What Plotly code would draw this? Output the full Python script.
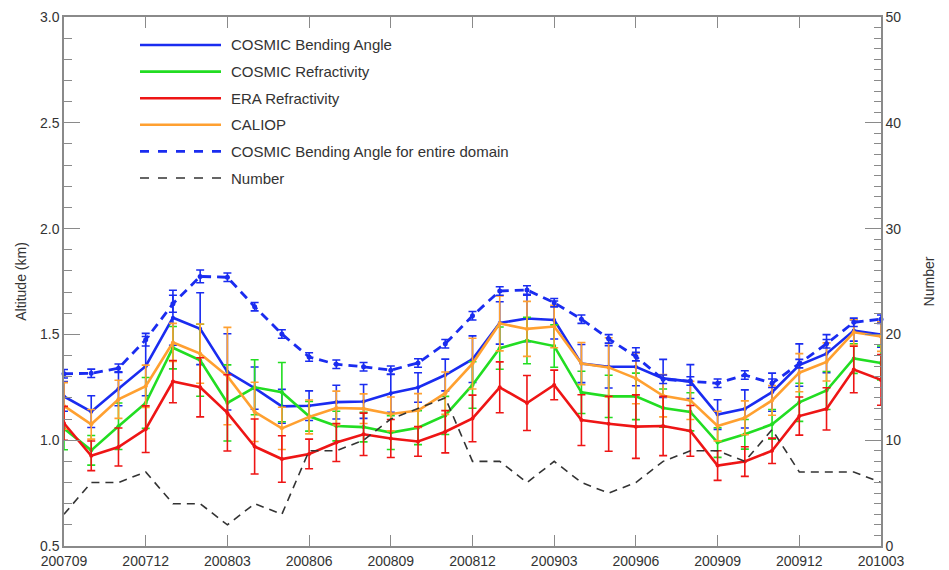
import plotly.graph_objects as go

# Monthly series, 2007-09 .. 2010-03
months = ["200709", "200710", "200711", "200712", "200801", "200802", "200803", "200804",
          "200805", "200806", "200807", "200808", "200809", "200810", "200811", "200812",
          "200901", "200902", "200903", "200904", "200905", "200906", "200907", "200908",
          "200909", "200910", "200911", "200912", "201001", "201002", "201003"]

cosmic_ba = [1.207, 1.135, 1.243, 1.350, 1.579, 1.527, 1.323, 1.246, 1.160, 1.163, 1.180,
             1.183, 1.222, 1.249, 1.308, 1.383, 1.554, 1.575, 1.568, 1.362, 1.347, 1.347,
             1.292, 1.277, 1.121, 1.148, 1.227, 1.355, 1.409, 1.518, 1.499]
cosmic_ba_err = [0.07, 0.075, 0.08, 0.14, 0.13, 0.17, 0.18, 0.10, 0.08, 0.07, 0.08, 0.08,
                 0.09, 0.07, 0.075, 0.11, 0.10, 0.11, 0.09, 0.09, 0.10, 0.09, 0.09, 0.08,
                 0.07, 0.09, 0.09, 0.10, 0.09, 0.05, 0.06]

cosmic_ref = [1.055, 0.952, 1.066, 1.176, 1.437, 1.378, 1.176, 1.250, 1.227, 1.113, 1.067,
              1.062, 1.036, 1.059, 1.117, 1.261, 1.435, 1.471, 1.445, 1.226, 1.207, 1.207,
              1.152, 1.134, 0.989, 1.028, 1.075, 1.179, 1.235, 1.386, 1.365]
cosmic_ref_err = [0.10, 0.07, 0.11, 0.12, 0.10, 0.17, 0.18, 0.13, 0.14, 0.07, 0.07, 0.07,
                  0.08, 0.08, 0.09, 0.11, 0.10, 0.11, 0.10, 0.10, 0.10, 0.11, 0.09, 0.09,
                  0.07, 0.07, 0.07, 0.09, 0.09, 0.07, 0.08]

era_ref = [1.080, 0.926, 0.968, 1.052, 1.277, 1.250, 1.129, 0.970, 0.911, 0.935, 0.989,
           1.028, 1.008, 0.994, 1.040, 1.103, 1.250, 1.176, 1.261, 1.095, 1.078, 1.064,
           1.067, 1.044, 0.880, 0.899, 0.950, 1.114, 1.148, 1.334, 1.285]
era_ref_err = [0.08, 0.07, 0.09, 0.11, 0.10, 0.14, 0.18, 0.13, 0.11, 0.07, 0.09, 0.10,
               0.09, 0.07, 0.10, 0.11, 0.12, 0.13, 0.07, 0.12, 0.13, 0.15, 0.14, 0.12,
               0.07, 0.07, 0.06, 0.09, 0.10, 0.11, 0.12]

caliop = [1.162, 1.075, 1.193, 1.255, 1.462, 1.409, 1.303, 1.134, 1.056, 1.110, 1.152,
          1.149, 1.124, 1.140, 1.222, 1.362, 1.552, 1.526, 1.537, 1.362, 1.344, 1.292,
          1.210, 1.188, 1.067, 1.106, 1.188, 1.319, 1.370, 1.510, 1.490]
caliop_err = [0.11, 0.07, 0.09, 0.10, 0.09, 0.14, 0.23, 0.14, 0.10, 0.08, 0.08, 0.07,
              0.08, 0.08, 0.10, 0.12, 0.13, 0.13, 0.10, 0.10, 0.14, 0.12, 0.10, 0.09,
              0.07, 0.08, 0.07, 0.09, 0.09, 0.06, 0.07]

cosmic_ba_all = [1.314, 1.316, 1.340, 1.475, 1.645, 1.774, 1.770, 1.631, 1.502, 1.393, 1.359,
                 1.347, 1.331, 1.365, 1.456, 1.588, 1.705, 1.710, 1.650, 1.572, 1.479, 1.395,
                 1.288, 1.280, 1.269, 1.308, 1.269, 1.362, 1.456, 1.557, 1.572]
cosmic_ba_all_err = [0.02, 0.02, 0.02, 0.03, 0.04, 0.03, 0.02, 0.02, 0.02, 0.02, 0.02, 0.02,
                     0.02, 0.02, 0.02, 0.02, 0.02, 0.02, 0.02, 0.02, 0.02, 0.02, 0.02, 0.02,
                     0.02, 0.02, 0.02, 0.02, 0.02, 0.02, 0.02]

number = [3, 6, 6, 7, 4, 4, 2, 4, 3, 9, 9, 10, 12, 13, 14, 8, 8, 6, 8, 6, 5, 6, 8, 9, 9, 8,
          11, 7, 7, 7, 6]

tick_idx = list(range(0, len(months), 3))
tick_text = [months[i] for i in tick_idx]
x = list(range(len(months)))

BLUE = "#1a2cf0"
GREEN = "#22dd22"
RED = "#ee1515"
ORANGE = "#ffa030"
GREY = "#333333"
FONT = "Liberation Sans, Arial, sans-serif"

fig = go.Figure()


def add_series(y, err, color, dash="solid", width=2.6, msize=4, name=""):
    fig.add_trace(go.Scatter(
        x=x, y=y, mode="lines+markers", name=name, showlegend=False,
        line=dict(color=color, width=width, dash=dash),
        marker=dict(color=color, size=msize),
        error_y=dict(type="data", array=err, visible=True, color=color,
                     thickness=1.6, width=4),
        cliponaxis=False,
    ))


add_series(cosmic_ba, cosmic_ba_err, BLUE, name="COSMIC Bending Angle")
add_series(cosmic_ref, cosmic_ref_err, GREEN, name="COSMIC Refractivity")
add_series(caliop, caliop_err, ORANGE, name="CALIOP")
add_series(era_ref, era_ref_err, RED, name="ERA Refractivity")
add_series(cosmic_ba_all, cosmic_ba_all_err, BLUE, dash="9px,6px", width=2.8, msize=5,
           name="COSMIC Bending Angle for entire domain")

fig.add_trace(go.Scatter(
    x=x, y=number, mode="lines", name="Number", showlegend=False, yaxis="y2",
    line=dict(color=GREY, width=1.6, dash="8px,6px"),
))

# Hand-built legend (long line samples, top-left inside the plot)
L, R, T, B = 64, 881, 17, 546
W, H = R - L, B - T


def px(xp):
    return (xp - L) / W


def py(yp):
    return (B - yp) / H


legend_rows = [
    ("COSMIC Bending Angle", BLUE, "solid", 2.6),
    ("COSMIC Refractivity", GREEN, "solid", 2.6),
    ("ERA Refractivity", RED, "solid", 2.6),
    ("CALIOP", ORANGE, "solid", 2.6),
    ("COSMIC Bending Angle for entire domain", BLUE, "dash", 2.8),
    ("Number", GREY, "dash", 1.4),
]
shapes = []
annotations = []
for k, (label, color, dash, lw) in enumerate(legend_rows):
    yrow = 45 + k * 26.6
    shapes.append(dict(type="line", xref="paper", yref="paper",
                       x0=px(140), x1=px(221), y0=py(yrow), y1=py(yrow),
                       line=dict(color=color, width=lw, dash=dash)))
    annotations.append(dict(text=label, xref="paper", yref="paper",
                            x=px(229), y=py(yrow), xanchor="left", yanchor="middle",
                            showarrow=False, font=dict(family=FONT, size=15, color=GREY)))

axis_common = dict(showline=True, linecolor="#8a8a8a", linewidth=1.5, tickcolor="#8a8a8a",
                   showgrid=False, zeroline=False, ticks="inside", automargin=False,
                   tickfont=dict(family=FONT, size=14, color=GREY))

fig.update_layout(
    width=949, height=570,
    margin=dict(l=L, r=949 - R, t=T, b=570 - B),
    paper_bgcolor="white", plot_bgcolor="white",
    font=dict(family=FONT, color=GREY),
    shapes=shapes, annotations=annotations,
    xaxis=dict(range=[0, len(months) - 1], tickvals=tick_idx, ticktext=tick_text,
               ticklen=11, mirror="ticks", ticklabelstandoff=1, **axis_common),
    yaxis=dict(range=[0.5, 3.0], dtick=0.5, tickformat=".1f", ticklen=16,
               minor=dict(dtick=0.1, ticklen=8, ticks="inside", tickcolor="#8a8a8a"),
               title=dict(text="Altitude (km)", font=dict(family=FONT, size=14, color=GREY),
                          standoff=10),
               **axis_common),
    yaxis2=dict(range=[0, 50], dtick=10, overlaying="y", side="right", ticklen=16,
                minor=dict(dtick=1, ticklen=7, ticks="inside", tickcolor="#8a8a8a"),
                title=dict(text="Number", font=dict(family=FONT, size=14, color=GREY),
                           standoff=24),
                **axis_common),
)

fig.write_html("out.html")
